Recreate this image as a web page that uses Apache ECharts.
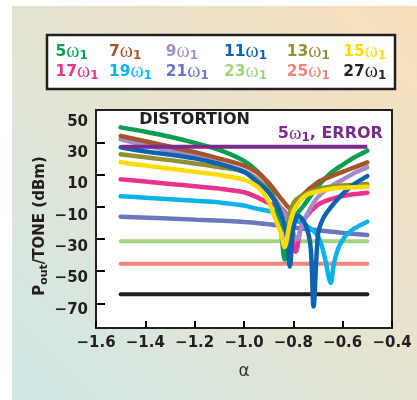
<!DOCTYPE html>
<html><head><meta charset="utf-8">
<script src="https://cdn.jsdelivr.net/npm/echarts@6/dist/echarts.min.js"></script>
<style>html,body{margin:0;padding:0;background:#fff;overflow:hidden}
#wrap{position:absolute;left:12px;top:6px;width:405px;height:394px;
  background:linear-gradient(to top right,#cfe8e6 0%,#e5e4d2 50%,#f9dfbb 100%)}
#plotbg{position:absolute;left:84px;top:104px;width:296px;height:218px;background:#fff}
#c{position:absolute;left:0;top:0;width:405px;height:394px}</style>
</head><body><div id="wrap"><div id="plotbg"></div><div id="c"></div></div>
<script>
// ---- data ----
const harmonics = [5, 7, 9, 11, 13, 15, 17, 19, 21, 23, 25, 27];
const colors = ['#0c9f50', '#a4552b', '#a48dc7', '#0b63b1', '#939034', '#ffdc00',
                '#e8328c', '#0ab2e8', '#6b78bd', '#a3d37d', '#f1857d', '#231f20'];
const xTickLabels = [-1.6, -1.4, -1.2, -1.0, -0.8, -0.6, -0.4];
const yTickLabels = [50, 30, 10, -10, -30, -50, -70];
const yTickMarks = [36.6, 16.1, -4.4, -24.9, -45.4, -65.9];

const h5  = [[-1.5,46.4],[-1.4,43.6],[-1.3,40.4],[-1.2,36.5],[-1.1,32],[-1.0,25],[-0.95,19],[-0.9,10],[-0.87,-4],[-0.85,-20],[-0.835,-38],[-0.82,-22],[-0.8,-12],[-0.76,-4],[-0.7,9],[-0.65,17],[-0.6,22.5],[-0.55,27.5],[-0.5,31.5]];
const h7  = [[-1.5,40.9],[-1.4,37.5],[-1.3,34],[-1.2,30.5],[-1.1,26.5],[-1.0,22],[-0.95,18],[-0.9,11],[-0.85,1],[-0.805,-6.3],[-0.77,2],[-0.7,11.5],[-0.65,15],[-0.6,18],[-0.55,21],[-0.5,24.1]];
const h9  = [[-1.5,38.8],[-1.4,35],[-1.3,31.5],[-1.2,27.7],[-1.1,23.5],[-1.0,18.5],[-0.95,14],[-0.9,6],[-0.85,-5],[-0.82,-13],[-0.785,-25],[-0.76,-14],[-0.73,-5],[-0.7,2],[-0.65,8.5],[-0.6,13],[-0.55,17.5],[-0.5,20.9]];
const h11 = [[-1.5,33.7],[-1.4,31],[-1.3,29],[-1.2,26.6],[-1.1,23],[-1.0,18],[-0.95,12],[-0.9,5],[-0.86,-5],[-0.83,-20],[-0.814,-42.5],[-0.8,-18],[-0.78,-10],[-0.75,-16],[-0.73,-30],[-0.718,-68],[-0.7,-22],[-0.68,-12],[-0.65,-5],[-0.6,4],[-0.55,10.5],[-0.5,15.3]];
const h13 = [[-1.5,29.2],[-1.4,27.3],[-1.3,25.5],[-1.2,23.4],[-1.1,21],[-1.0,18],[-0.95,13],[-0.9,6],[-0.87,-1],[-0.85,-8],[-0.83,-20],[-0.81,-6],[-0.79,0],[-0.75,4],[-0.7,7],[-0.65,8.5],[-0.6,9.3],[-0.55,9.8],[-0.5,10.2]];
const h15 = [[-1.5,24.1],[-1.4,22],[-1.3,20],[-1.2,18],[-1.1,16],[-1.0,13],[-0.95,9],[-0.92,4],[-0.9,-1],[-0.878,-10],[-0.851,-21],[-0.835,-30],[-0.817,-17],[-0.797,-6.3],[-0.77,0],[-0.743,3.5],[-0.7,5.5],[-0.65,7],[-0.6,7.8],[-0.55,8.2],[-0.5,8.5]];
const h17 = [[-1.5,13.2],[-1.4,11.8],[-1.3,10.3],[-1.2,8.8],[-1.1,7.3],[-1.0,5],[-0.95,2],[-0.9,-2],[-0.85,-5],[-0.82,-12],[-0.79,-33],[-0.77,-18],[-0.75,-11],[-0.7,-3],[-0.65,0.5],[-0.6,2.5],[-0.55,3.8],[-0.5,4.7]];
const h19 = [[-1.5,2.4],[-1.4,1.5],[-1.3,0.5],[-1.2,-0.5],[-1.1,-1.5],[-1.0,-3.5],[-0.95,-5.5],[-0.9,-7],[-0.85,-9],[-0.8,-12.5],[-0.75,-16],[-0.7,-23],[-0.675,-35],[-0.648,-53],[-0.635,-40],[-0.61,-28],[-0.57,-20],[-0.5,-13.8]];
const h21 = [[-1.5,-10.6],[-1.2,-12.5],[-1.0,-14],[-0.9,-15.5],[-0.8,-17.5],[-0.7,-19.3],[-0.6,-21],[-0.5,-22.3]];
const h23 = [[-1.5,-26.3],[-0.5,-26.3]];
const h25 = [[-1.5,-40.6],[-0.5,-40.6]];
const h27 = [[-1.5,-60.1],[-0.5,-60.1]];
const err5 = [[-1.5,34],[-0.5,34]];

const curves = [h5, h7, h9, h11, h13, h15, h17, h19, h21, h23, h25, h27];
// ---- chart ----
const FONT = 'DejaVu Sans';
const SERIF = 'Liberation Serif';
const INK = '#231f20';
const names = harmonics.map(h => h + 'ω1');
const drawOrder = [11, 10, 9, 8, 7, 6, 2, 0, 1, 4, 3, 5];

const series = drawOrder.map(i => ({
  name: names[i], type: 'line', data: curves[i],
  showSymbol: false, smooth: curves[i].length > 2 ? 0.3 : false,
  lineStyle: { color: colors[i], width: i >= 9 ? 4 : 4.5, cap: 'round', join: 'round' },
  itemStyle: { color: colors[i] }, emphasis: { disabled: true }
}));
series.push({
  name: '5ω1, ERROR', type: 'line', data: err5, showSymbol: false,
  lineStyle: { color: '#7c2b8c', width: 4 }, itemStyle: { color: '#7c2b8c' },
  emphasis: { disabled: true },
  markPoint: {
    symbol: 'circle', symbolSize: 0, silent: true,
    data: [{ coord: err5[err5.length - 1] }],
    label: {
      show: true, position: 'top', distance: 4, offset: [-37, 0],
      formatter: '{a|5}{w|ω}{s|1}{a|, ERROR}',
      rich: {
        a: { fontFamily: FONT, fontWeight: 'bold', fontSize: 16, color: '#7c2b8c', lineHeight: 18 },
        w: { fontFamily: SERIF, fontSize: 19, color: '#7c2b8c', lineHeight: 18 },
        s: { fontFamily: FONT, fontWeight: 'bold', fontSize: 12, color: '#7c2b8c', lineHeight: 12, padding: [8, 0, 0, 0] }
      }
    }
  }
});

// layout (container is offset 12px right, 6px down inside the page)
const colX = [43.5, 97, 153.7, 212, 274.7, 331.3];
const rowY = [45.7, 65.7];
const legends = harmonics.map((h, i) => {
  const c = colors[i];
  return {
    data: [names[i]], icon: 'none', itemWidth: 0, itemHeight: 0, padding: 0,
    left: colX[i % 6] - 5, top: rowY[Math.floor(i / 6)] - 10,
    selectedMode: true,
    formatter: () => '{n|' + h + '}{w|ω}{s|1}',
    textStyle: {
      color: c,
      rich: {
        n: { fontFamily: FONT, fontWeight: 'bold', fontSize: 15.5, color: c, lineHeight: 18 },
        w: { fontFamily: SERIF, fontSize: 20, color: c, lineHeight: 18 },
        s: { fontFamily: FONT, fontWeight: 'bold', fontSize: 12, color: c, lineHeight: 12, padding: [8, 0, 0, 0] }
      }
    }
  };
});

const chart = echarts.init(document.getElementById('c'), null, { renderer: 'canvas' });
chart.setOption({
  animation: false,
  backgroundColor: 'transparent',
  graphic: [
    { type: 'rect', silent: true, shape: { x: 35, y: 29, width: 348, height: 54 },
      style: { fill: '#fff', stroke: INK, lineWidth: 2.5 } },
    { type: 'text', silent: true, x: 182.5, y: 114,
      style: { text: 'DISTORTION', fontFamily: FONT, fontWeight: 'bold', fontSize: 16, fill: INK, align: 'center', verticalAlign: 'middle' } }
  ],
  legend: legends,
  grid: { left: 84, right: 25, top: 104, bottom: 72, show: true,
          borderColor: INK, borderWidth: 2 },
  xAxis: {
    type: 'value', min: xTickLabels[0], max: xTickLabels[xTickLabels.length - 1], interval: 0.2,
    axisLine: { show: true, onZero: false, lineStyle: { color: INK, width: 2 } },
    axisTick: { show: true, inside: true, length: 7, lineStyle: { color: '#000', width: 2 } },
    axisLabel: { margin: 8, fontFamily: FONT, fontWeight: 'bold', fontSize: 15, color: INK,
      formatter: v => (v < 0 ? '−' : '') + Math.abs(v).toFixed(1) },
    splitLine: { show: false },
    name: 'α', nameLocation: 'middle', nameGap: 35, nameMoveOverlap: false,
    nameTextStyle: { fontFamily: FONT, fontSize: 17, color: '#333' }
  },
  yAxis: {
    type: 'value', min: -81.7, max: 57.5,
    axisLine: { show: true, onZero: false, lineStyle: { color: INK, width: 2 } },
    axisTick: { show: true, inside: true, length: 9, customValues: yTickMarks, lineStyle: { color: '#000', width: 2 } },
    axisLabel: { margin: 8, customValues: yTickLabels, fontFamily: FONT, fontWeight: 'bold', fontSize: 15, color: INK,
      formatter: v => (v < 0 ? '−' : '') + Math.abs(v) },
    splitLine: { show: false },
    name: '{a|P}{s|out}{a|/TONE (dBm)}', nameLocation: 'middle', nameGap: 47, nameRotate: 90, nameMoveOverlap: false,
    nameTextStyle: { padding: [0, 14, 0, 0], rich: {
      a: { fontFamily: FONT, fontWeight: 'bold', fontSize: 15, color: INK, lineHeight: 18 },
      s: { fontFamily: FONT, fontWeight: 'bold', fontSize: 11, color: INK, lineHeight: 11, padding: [8, 0, 0, 0] }
    } }
  },
  series: series
});
</script></body></html>
